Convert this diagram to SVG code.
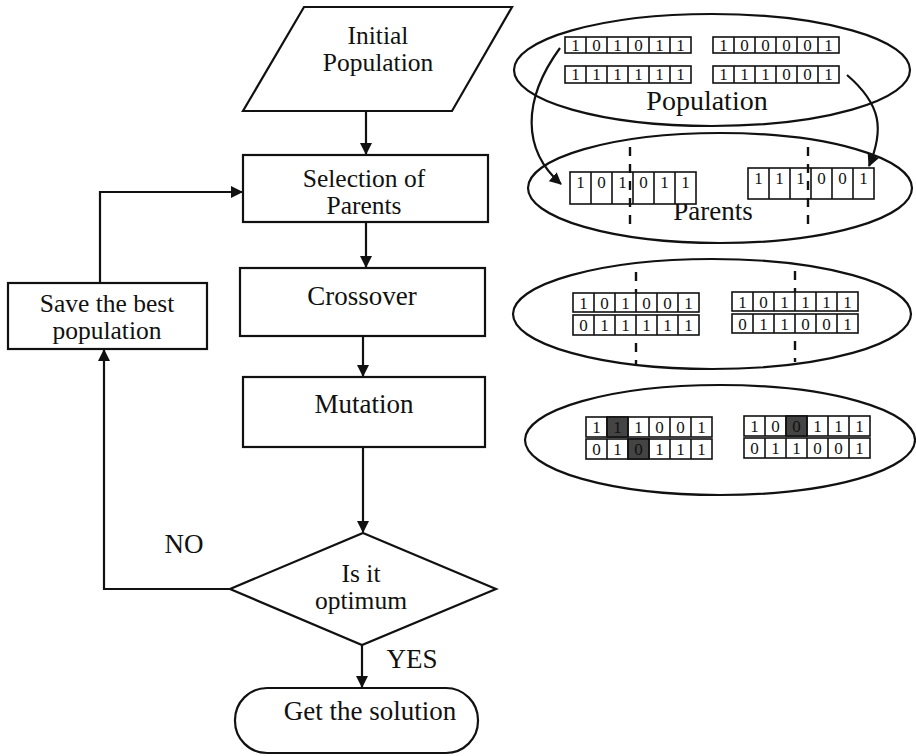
<svg xmlns="http://www.w3.org/2000/svg" width="916" height="756" viewBox="0 0 916 756">
<defs>
<marker id="ah" viewBox="0 0 12 12" refX="11" refY="6" markerWidth="12" markerHeight="12" markerUnits="userSpaceOnUse" orient="auto">
<path d="M0,0 L12,6 L0,12 Z" fill="#111"/>
</marker>
<style>
.s{fill:#fff;stroke:#111;stroke-width:2.2}
.c{fill:none;stroke:#111;stroke-width:2.2}
.t{font-size:27px;fill:#111;text-anchor:middle}
.t2{font-size:25.5px;fill:#111;text-anchor:middle}
.b{font-size:17px;fill:#111;text-anchor:middle}
.cell{fill:#fff;stroke:#111;stroke-width:1.6}
.dk{fill:#444;stroke:#111;stroke-width:1.6}
.d{stroke:#111;stroke-width:2.4;stroke-dasharray:9,8;fill:none}
.e{fill:none;stroke:#111;stroke-width:2.2}
.m{fill:none;stroke:#111;stroke-width:1.6}
</style>
</defs>
<rect width="916" height="756" fill="#fff"/>

<g id="connectors">
<line class="c" x1="366" y1="111" x2="366" y2="154" marker-end="url(#ah)"/>
<line class="c" x1="366" y1="222" x2="366" y2="267" marker-end="url(#ah)"/>
<line class="c" x1="363" y1="336" x2="363" y2="376" marker-end="url(#ah)"/>
<line class="c" x1="363" y1="447" x2="363" y2="532" marker-end="url(#ah)"/>
<line class="c" x1="362" y1="645" x2="362" y2="687" marker-end="url(#ah)"/>
<polyline class="c" points="230,589 104,589 104,350" marker-end="url(#ah)"/>
<polyline class="c" points="100,283 100,192 242,192" marker-end="url(#ah)"/>
<path class="c" d="M560,48 C522,100 522,150 561,184" marker-end="url(#ah)"/>
<path class="c" d="M847,75 C882,105 884,130 869,166" marker-end="url(#ah)"/>
</g>

<g font-family="'Liberation Serif', 'Times New Roman', 'DejaVu Serif', serif">
<g id="initial">
<polygon class="s" points="304,7 512,7 452,111 243,111"/>
<text class="t2" x="378" y="44">Initial</text>
<text class="t2" x="378" y="71">Population</text>
</g>
<g id="selection">
<rect class="s" x="243" y="155" width="245" height="67"/>
<text class="t2" x="364" y="187">Selection of</text>
<text class="t2" x="364" y="214">Parents</text>
</g>
<g id="crossover">
<rect class="s" x="240" y="268" width="245" height="68"/>
<text class="t" x="362" y="305">Crossover</text>
</g>
<g id="mutation">
<rect class="s" x="243" y="377" width="242" height="70"/>
<text class="t" x="364" y="413">Mutation</text>
</g>
<g id="save">
<rect class="s" x="8" y="283" width="199" height="66"/>
<text class="t2" x="107" y="312">Save the best</text>
<text class="t2" x="107" y="339">population</text>
</g>
<g id="decision">
<polygon class="s" points="363,533 496,589 362,645 230,589"/>
<text class="t2" x="361" y="582">Is it</text>
<text class="t2" x="361" y="609">optimum</text>
</g>
<g id="solution">
<rect class="s" x="235" y="688" width="243" height="65" rx="32" ry="32"/>
<text class="t" x="370" y="720">Get the solution</text>
</g>
<g id="labels">
<text class="t" x="184" y="553">NO</text>
<text class="t" x="412" y="668">YES</text>
</g>

<g id="population">
<ellipse class="e" cx="712" cy="70" rx="198" ry="56"/>
<text class="t" x="707" y="110" style="font-size:28px">Population</text>
<g transform="translate(565,37)">
<rect class="cell" width="126" height="16"/>
<path class="m" d="M21,0V16M42,0V16M63,0V16M84,0V16M105,0V16"/>
<text class="b" y="13.5"><tspan x="10.5">1</tspan><tspan x="31.5">0</tspan><tspan x="52.5">1</tspan><tspan x="73.5">0</tspan><tspan x="94.5">1</tspan><tspan x="115.5">1</tspan></text>
</g>
<g transform="translate(565,66)">
<rect class="cell" width="126" height="17"/>
<path class="m" d="M21,0V17M42,0V17M63,0V17M84,0V17M105,0V17"/>
<text class="b" y="14"><tspan x="10.5">1</tspan><tspan x="31.5">1</tspan><tspan x="52.5">1</tspan><tspan x="73.5">1</tspan><tspan x="94.5">1</tspan><tspan x="115.5">1</tspan></text>
</g>
<g transform="translate(713,37)">
<rect class="cell" width="126" height="16"/>
<path class="m" d="M21,0V16M42,0V16M63,0V16M84,0V16M105,0V16"/>
<text class="b" y="13.5"><tspan x="10.5">1</tspan><tspan x="31.5">0</tspan><tspan x="52.5">0</tspan><tspan x="73.5">0</tspan><tspan x="94.5">0</tspan><tspan x="115.5">1</tspan></text>
</g>
<g transform="translate(713,66)">
<rect class="cell" width="126" height="17"/>
<path class="m" d="M21,0V17M42,0V17M63,0V17M84,0V17M105,0V17"/>
<text class="b" y="14"><tspan x="10.5">1</tspan><tspan x="31.5">1</tspan><tspan x="52.5">1</tspan><tspan x="73.5">0</tspan><tspan x="94.5">0</tspan><tspan x="115.5">1</tspan></text>
</g>
</g>

<g id="parents">
<ellipse class="e" cx="720" cy="188" rx="192" ry="55"/>
<text class="t" x="713" y="220">Parents</text>
<g transform="translate(570,172)">
<rect class="cell" width="126" height="32"/>
<path class="m" d="M21,0V32M42,0V32M63,0V32M84,0V32M105,0V32"/>
<text class="b" y="16"><tspan x="10.5">1</tspan><tspan x="31.5">0</tspan><tspan x="52.5">1</tspan><tspan x="73.5">0</tspan><tspan x="94.5">1</tspan><tspan x="115.5">1</tspan></text>
</g>
<g transform="translate(748,168)">
<rect class="cell" width="126" height="31"/>
<path class="m" d="M21,0V31M42,0V31M63,0V31M84,0V31M105,0V31"/>
<text class="b" y="16"><tspan x="10.5">1</tspan><tspan x="31.5">1</tspan><tspan x="52.5">1</tspan><tspan x="73.5">0</tspan><tspan x="94.5">0</tspan><tspan x="115.5">1</tspan></text>
</g>
<line class="d" x1="630" y1="147" x2="630" y2="228"/>
<line class="d" x1="808" y1="147" x2="808" y2="226"/>
</g>

<g id="crossed">
<ellipse class="e" cx="712" cy="314" rx="199" ry="55"/>
<g transform="translate(573,293)">
<rect class="cell" width="126" height="19"/>
<path class="m" d="M21,0V19M42,0V19M63,0V19M84,0V19M105,0V19"/>
<text class="b" y="15.5"><tspan x="10.5">1</tspan><tspan x="31.5">0</tspan><tspan x="52.5">1</tspan><tspan x="73.5">0</tspan><tspan x="94.5">0</tspan><tspan x="115.5">1</tspan></text>
</g>
<g transform="translate(573,315)">
<rect class="cell" width="126" height="20"/>
<path class="m" d="M21,0V20M42,0V20M63,0V20M84,0V20M105,0V20"/>
<text class="b" y="16"><tspan x="10.5">0</tspan><tspan x="31.5">1</tspan><tspan x="52.5">1</tspan><tspan x="73.5">1</tspan><tspan x="94.5">1</tspan><tspan x="115.5">1</tspan></text>
</g>
<g transform="translate(732,292)">
<rect class="cell" width="126" height="19"/>
<path class="m" d="M21,0V19M42,0V19M63,0V19M84,0V19M105,0V19"/>
<text class="b" y="15.5"><tspan x="10.5">1</tspan><tspan x="31.5">0</tspan><tspan x="52.5">1</tspan><tspan x="73.5">1</tspan><tspan x="94.5">1</tspan><tspan x="115.5">1</tspan></text>
</g>
<g transform="translate(732,314)">
<rect class="cell" width="126" height="19"/>
<path class="m" d="M21,0V19M42,0V19M63,0V19M84,0V19M105,0V19"/>
<text class="b" y="15.5"><tspan x="10.5">0</tspan><tspan x="31.5">1</tspan><tspan x="52.5">1</tspan><tspan x="73.5">0</tspan><tspan x="94.5">0</tspan><tspan x="115.5">1</tspan></text>
</g>
<line class="d" x1="636" y1="272" x2="636" y2="293"/>
<line class="d" x1="636" y1="343" x2="636" y2="364"/>
<line class="d" x1="795" y1="271" x2="795" y2="292"/>
<line class="d" x1="795" y1="341" x2="795" y2="362"/>
</g>

<g id="mutated">
<ellipse class="e" cx="720" cy="440" rx="195" ry="55"/>
<g transform="translate(586,417)">
<rect class="cell" width="126" height="20"/>
<rect class="dk" x="21" width="21" height="20"/>
<path class="m" d="M21,0V20M42,0V20M63,0V20M84,0V20M105,0V20"/>
<text class="b" y="16"><tspan x="10.5">1</tspan><tspan x="31.5">1</tspan><tspan x="52.5">1</tspan><tspan x="73.5">0</tspan><tspan x="94.5">0</tspan><tspan x="115.5">1</tspan></text>
</g>
<g transform="translate(586,439)">
<rect class="cell" width="126" height="20"/>
<rect class="dk" x="42" width="21" height="20"/>
<path class="m" d="M21,0V20M42,0V20M63,0V20M84,0V20M105,0V20"/>
<text class="b" y="16"><tspan x="10.5">0</tspan><tspan x="31.5">1</tspan><tspan x="52.5">0</tspan><tspan x="73.5">1</tspan><tspan x="94.5">1</tspan><tspan x="115.5">1</tspan></text>
</g>
<g transform="translate(744,416)">
<rect class="cell" width="126" height="20"/>
<rect class="dk" x="42" width="21" height="20"/>
<path class="m" d="M21,0V20M42,0V20M63,0V20M84,0V20M105,0V20"/>
<text class="b" y="16"><tspan x="10.5">1</tspan><tspan x="31.5">0</tspan><tspan x="52.5">0</tspan><tspan x="73.5">1</tspan><tspan x="94.5">1</tspan><tspan x="115.5">1</tspan></text>
</g>
<g transform="translate(744,438)">
<rect class="cell" width="126" height="20"/>
<path class="m" d="M21,0V20M42,0V20M63,0V20M84,0V20M105,0V20"/>
<text class="b" y="16"><tspan x="10.5">0</tspan><tspan x="31.5">1</tspan><tspan x="52.5">1</tspan><tspan x="73.5">0</tspan><tspan x="94.5">0</tspan><tspan x="115.5">1</tspan></text>
</g>
</g>
</g>
</svg>
